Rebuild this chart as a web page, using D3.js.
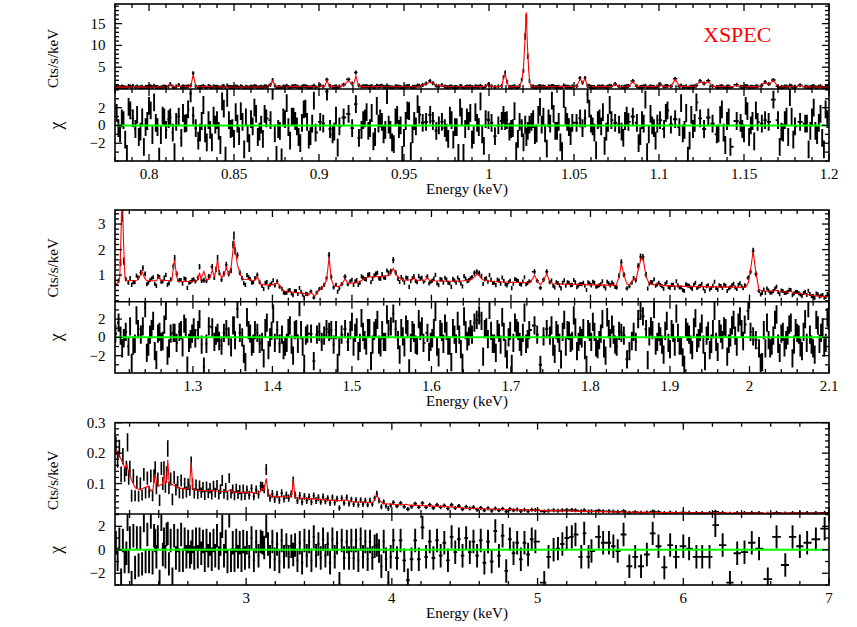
<!DOCTYPE html>
<html><head><meta charset="utf-8">
<script src="https://cdn.jsdelivr.net/npm/d3@7"></script>
<style>
body{margin:0;background:#fff}
svg{display:block}
text{font-family:"Liberation Serif","Times New Roman",serif;fill:#000}
</style>
</head><body>
<svg id="c" width="857" height="627"></svg>
<script>
// ---------------- DATA ----------------
// Tick labels
const p1XTicks = [0.8,0.85,0.9,0.95,1,1.05,1.1,1.15,1.2];
const p1YTicks = [5,10,15];
const p2XTicks = [1.3,1.4,1.5,1.6,1.7,1.8,1.9,2,2.1];
const p2YTicks = [1,2,3];
const p3XTicks = [3,4,5,6,7];
const p3YTicks = [0.1,0.2,0.3];
const chiTicks = [-2,0,2];
const xLabel = "Energy (keV)", yLabel = "Cts/s/keV", rLabel = "\u03c7", tag = "XSPEC";

// Model curves (red): [energy keV, Cts/s/keV]
const p1Model = [[0.780,0.42],[0.788,0.44],[0.7905,0.62],[0.793,0.44],[0.805,0.46],[0.811,0.5],[0.8125,1.05],[0.814,0.52],[0.816,0.5],[0.8175,0.85],[0.819,0.5],[0.8245,0.55],[0.826,3.3],[0.8275,0.6],[0.832,0.48],[0.835,0.62],[0.837,0.46],[0.855,0.45],[0.870,0.5],[0.8715,0.9],[0.8727,1.9],[0.874,0.9],[0.8755,0.5],[0.884,0.5],[0.886,0.65],[0.888,0.5],[0.899,0.52],[0.9007,0.8],[0.902,0.55],[0.9035,0.7],[0.9047,2.0],[0.906,0.7],[0.9075,0.55],[0.913,0.6],[0.9155,1.2],[0.9174,1.9],[0.919,1.2],[0.9205,1.3],[0.9217,3.0],[0.923,1.0],[0.925,0.55],[0.935,0.55],[0.937,0.7],[0.939,0.5],[0.958,0.55],[0.962,1.0],[0.9654,1.6],[0.968,1.0],[0.970,0.6],[0.9723,0.85],[0.9745,0.55],[0.985,0.5],[0.9975,0.6],[0.9997,1.0],[1.002,0.55],[1.0075,0.6],[1.0085,2.4],[1.0095,3.6],[1.0105,1.5],[1.012,0.5],[1.018,0.6],[1.0193,2.0],[1.0203,5.0],[1.0213,12.5],[1.0219,17.6],[1.0226,10.0],[1.0233,4.5],[1.0240,1.4],[1.025,0.5],[1.035,0.5],[1.0515,0.6],[1.0536,2.3],[1.055,1.5],[1.0565,2.3],[1.058,0.7],[1.060,0.5],[1.072,0.55],[1.0742,1.1],[1.0765,0.55],[1.082,0.6],[1.0846,1.7],[1.087,0.6],[1.098,0.55],[1.1006,1.0],[1.103,0.55],[1.107,0.6],[1.1095,2.2],[1.112,0.6],[1.121,0.6],[1.1242,1.7],[1.1265,1.3],[1.129,1.7],[1.1315,0.6],[1.143,0.5],[1.1457,0.9],[1.148,0.5],[1.159,0.55],[1.1624,1.5],[1.1645,1.1],[1.1673,1.9],[1.170,0.55],[1.180,0.5],[1.183,0.8],[1.186,0.48],[1.200,0.45]];

const p2Model = [[1.200,0.60],[1.205,0.62],[1.208,0.9],[1.2095,2.5],[1.211,4.6],[1.2125,2.5],[1.2145,0.9],[1.217,0.78],[1.230,0.8],[1.233,0.95],[1.236,1.15],[1.239,0.9],[1.242,0.78],[1.254,0.78],[1.257,0.92],[1.260,0.78],[1.2735,0.8],[1.2755,1.3],[1.277,1.6],[1.2785,1.2],[1.281,0.75],[1.300,0.75],[1.306,0.8],[1.3083,1.1],[1.310,0.85],[1.3138,1.15],[1.317,0.82],[1.321,0.85],[1.3243,1.2],[1.327,0.95],[1.329,1.2],[1.331,1.6],[1.333,1.15],[1.336,0.9],[1.339,1.0],[1.342,1.3],[1.345,1.05],[1.348,1.3],[1.3505,2.0],[1.3516,2.35],[1.353,2.0],[1.356,1.4],[1.360,1.0],[1.364,0.82],[1.370,0.85],[1.376,0.78],[1.3795,0.85],[1.381,0.95],[1.383,0.78],[1.386,0.62],[1.396,0.62],[1.400,0.62],[1.404,0.66],[1.406,0.7],[1.409,0.6],[1.412,0.45],[1.416,0.36],[1.425,0.33],[1.435,0.3],[1.441,0.28],[1.445,0.22],[1.4486,0.33],[1.4528,0.17],[1.456,0.3],[1.459,0.42],[1.465,0.6],[1.468,0.8],[1.4713,1.7],[1.474,0.85],[1.477,0.58],[1.483,0.55],[1.487,0.62],[1.4914,0.86],[1.495,0.68],[1.505,0.7],[1.510,0.75],[1.515,0.85],[1.520,0.93],[1.540,0.95],[1.548,1.0],[1.552,1.27],[1.556,1.0],[1.560,0.88],[1.566,0.8],[1.576,0.82],[1.578,0.9],[1.581,0.8],[1.592,0.8],[1.595,0.9],[1.598,0.78],[1.625,0.76],[1.640,0.78],[1.648,0.8],[1.653,0.9],[1.658,1.05],[1.6644,0.82],[1.675,0.75],[1.700,0.72],[1.724,0.70],[1.727,0.85],[1.7296,1.0],[1.733,0.78],[1.737,0.62],[1.741,0.8],[1.745,1.05],[1.749,0.72],[1.753,0.66],[1.790,0.63],[1.832,0.6],[1.836,0.9],[1.8388,1.45],[1.842,1.0],[1.846,0.65],[1.849,0.62],[1.8543,0.85],[1.857,0.8],[1.860,1.2],[1.864,1.7],[1.8665,1.6],[1.870,0.94],[1.874,0.66],[1.880,0.62],[1.884,0.66],[1.888,0.6],[1.920,0.56],[1.960,0.54],[1.995,0.52],[1.9985,0.7],[2.0013,1.2],[2.0046,1.94],[2.008,1.1],[2.012,0.42],[2.020,0.38],[2.030,0.37],[2.033,0.42],[2.036,0.36],[2.048,0.33],[2.052,0.37],[2.056,0.3],[2.070,0.25],[2.080,0.2],[2.090,0.17],[2.100,0.15]];

const p3Model = [[2.100,0.212],[2.125,0.195],[2.150,0.172],[2.170,0.15],[2.182,0.162],[2.192,0.14],[2.215,0.11],[2.239,0.086],[2.273,0.079],[2.300,0.086],[2.331,0.092],[2.345,0.076],[2.360,0.08],[2.376,0.132],[2.390,0.09],[2.410,0.095],[2.425,0.098],[2.436,0.132],[2.446,0.1],[2.454,0.105],[2.462,0.178],[2.472,0.1],[2.500,0.095],[2.540,0.085],[2.580,0.082],[2.610,0.086],[2.623,0.170],[2.634,0.082],[2.660,0.078],[2.750,0.076],[2.780,0.079],[2.800,0.075],[2.870,0.074],[2.891,0.08],[2.910,0.072],[3.000,0.071],[3.074,0.069],[3.095,0.072],[3.108,0.085],[3.122,0.078],[3.138,0.117],[3.152,0.064],[3.170,0.058],[3.300,0.056],[3.314,0.065],[3.323,0.115],[3.335,0.058],[3.350,0.053],[3.500,0.048],[3.640,0.044],[3.691,0.047],[3.710,0.041],[3.870,0.038],[3.885,0.05],[3.897,0.062],[3.915,0.045],[3.940,0.034],[4.000,0.032],[4.080,0.03],[4.100,0.032],[4.120,0.029],[4.350,0.025],[4.520,0.019],[4.770,0.015],[5.000,0.012],[5.500,0.007],[6.000,0.004],[6.500,0.003],[7.000,0.002]];

// Data bins: [energy keV, Cts/s/keV, 1-sigma error, residual chi]
const p1Bins = [
[0.781,0.52,0.12,1.4],[0.783,0.38,0.11,-0.9],[0.785,0.47,0.12,0.6],[0.787,0.30,0.11,-3.2],[0.789,0.55,0.12,1.7],[0.7905,0.66,0.13,0.8],[0.792,0.41,0.12,-0.4],[0.794,0.36,0.11,-1.3],[0.796,0.50,0.12,0.9],[0.798,0.44,0.12,-0.2],
[0.800,0.58,0.12,2.2],[0.802,0.39,0.11,-1.1],[0.804,0.45,0.12,0.3],[0.806,0.28,0.11,-3.5],[0.808,0.52,0.12,1.1],[0.810,0.47,0.12,-0.5],[0.8115,0.60,0.13,0.7],[0.8125,1.12,0.18,0.9],[0.814,0.49,0.12,-0.8],[0.816,0.55,0.12,0.4],
[0.8175,0.92,0.16,1.0],[0.819,0.42,0.12,-1.4],[0.821,0.50,0.12,0.2],[0.823,0.61,0.13,1.8],[0.8245,0.78,0.14,3.6],[0.826,3.60,0.40,1.1],[0.8275,0.62,0.13,-0.3],[0.829,0.43,0.12,-1.7],[0.831,0.52,0.12,0.5],[0.833,0.40,0.11,-0.9],
[0.835,0.66,0.13,0.6],[0.837,0.35,0.11,-1.9],[0.839,0.49,0.12,0.1],[0.841,0.41,0.12,-0.6],[0.843,0.56,0.12,2.7],[0.845,0.30,0.11,-3.4],[0.847,0.50,0.12,0.6],[0.849,0.44,0.12,-0.3],[0.851,0.58,0.13,1.5],[0.853,0.37,0.11,-1.2],
[0.855,0.48,0.12,0.4],[0.857,0.53,0.12,0.9],[0.859,0.35,0.11,-2.0],[0.861,0.47,0.12,-0.1],[0.863,0.56,0.12,1.3],[0.865,0.42,0.12,-0.7],[0.867,0.39,0.11,-1.5],[0.869,0.55,0.12,0.8],[0.8715,1.00,0.17,0.6],[0.8727,2.05,0.28,3.9],
[0.874,0.80,0.15,-0.9],[0.876,0.47,0.12,-0.4],[0.878,0.30,0.11,-3.6],[0.880,0.52,0.12,0.7],[0.882,0.46,0.12,-0.2],[0.884,0.58,0.13,1.0],[0.886,0.70,0.13,0.5],[0.888,0.41,0.12,-1.3],[0.890,0.51,0.12,0.3],[0.892,0.63,0.13,1.9],
[0.894,0.38,0.11,-1.6],[0.896,0.50,0.12,0.2],[0.898,0.44,0.12,-0.8],[0.9007,0.84,0.15,0.4],[0.9025,0.56,0.12,0.2],[0.9047,2.15,0.28,3.8],[0.9065,0.68,0.13,-0.4],[0.908,0.47,0.12,-1.0],[0.910,0.62,0.13,1.1],[0.912,0.55,0.12,-0.1],
[0.9145,1.00,0.16,0.9],[0.9174,2.20,0.28,1.3],[0.9195,1.25,0.19,-0.3],[0.9217,3.80,0.40,2.4],[0.9235,0.80,0.15,-1.4],[0.925,0.52,0.12,-0.5],[0.927,0.61,0.13,0.8],[0.929,0.49,0.12,-0.6],[0.931,0.66,0.13,1.4],[0.933,0.44,0.12,-1.3],
[0.935,0.58,0.13,0.2],[0.937,0.75,0.14,0.4],[0.939,0.47,0.12,-0.5],[0.941,0.53,0.12,0.1],[0.943,0.40,0.12,-1.9],[0.945,0.62,0.13,0.9],[0.947,0.51,0.12,-0.4],[0.949,0.30,0.11,-3.3],[0.951,0.58,0.13,0.5],[0.953,0.67,0.13,1.6],
[0.955,0.45,0.12,-1.0],[0.957,0.54,0.12,-0.1],[0.959,0.72,0.14,1.2],[0.961,0.90,0.15,0.3],[0.963,1.25,0.19,0.4],[0.9654,1.85,0.24,1.2],[0.967,1.30,0.19,0.5],[0.969,0.72,0.14,-0.6],[0.9705,0.61,0.13,0.0],[0.9723,0.92,0.16,0.4],
[0.974,0.55,0.12,-0.3],[0.976,0.42,0.12,-1.5],[0.978,0.57,0.13,0.6],[0.980,0.48,0.12,-0.2],[0.982,0.30,0.11,-3.1],[0.984,0.59,0.13,1.0],[0.986,0.46,0.12,-0.4],[0.988,0.54,0.12,0.5],[0.990,0.40,0.12,-1.6],[0.992,0.63,0.13,1.5],
[0.994,0.51,0.12,-0.2],[0.996,0.44,0.12,-1.0],[0.998,0.69,0.13,0.7],[0.9997,1.10,0.17,0.6],[1.0015,0.62,0.13,0.3],[1.0035,0.48,0.12,-1.2],[1.0055,0.57,0.13,0.0],[1.0075,0.66,0.13,0.5],[1.0085,2.70,0.32,1.2],[1.0095,3.80,0.40,0.5],
[1.0105,1.70,0.24,0.6],[1.012,0.47,0.12,-0.7],[1.014,0.53,0.12,-0.3],[1.016,0.34,0.11,-2.9],[1.018,0.66,0.13,0.4],[1.0193,2.10,0.27,-0.3],[1.0203,4.20,0.45,-1.9],[1.0213,12.1,0.80,0.1],[1.0220,16.3,0.90,-1.3],[1.0228,7.50,0.60,-0.6],
[1.0238,1.85,0.25,0.1],[1.025,0.56,0.12,0.4],[1.027,0.42,0.12,-1.1],[1.029,0.60,0.13,1.2],[1.031,0.51,0.12,0.1],[1.033,0.44,0.12,-0.9],[1.035,0.57,0.13,0.8],[1.037,0.66,0.13,2.8],[1.039,0.45,0.12,-0.6],[1.041,0.53,0.12,0.4],
[1.043,0.36,0.11,-2.9],[1.045,0.60,0.13,1.1],[1.047,0.49,0.12,-0.2],[1.049,0.55,0.12,0.3],[1.0515,0.62,0.13,0.3],[1.0536,2.50,0.30,0.8],[1.055,1.45,0.21,-0.3],[1.0565,2.50,0.30,0.8],[1.058,0.75,0.14,3.5],[1.060,0.53,0.12,0.2],
[1.062,0.44,0.12,-0.8],[1.064,0.58,0.13,0.6],[1.066,0.50,0.12,-0.1],[1.068,0.37,0.11,-2.3],[1.070,0.55,0.12,0.3],[1.072,0.63,0.13,0.6],[1.0742,1.15,0.18,0.3],[1.0765,0.57,0.13,0.1],[1.078,0.48,0.12,-0.7],[1.080,0.60,0.13,0.5],
[1.082,0.66,0.13,0.4],[1.0846,1.85,0.24,1.0],[1.087,0.64,0.13,0.3],[1.089,0.45,0.12,-1.2],[1.091,0.56,0.12,0.2],[1.093,0.36,0.12,-3.0],[1.095,0.62,0.13,1.3],[1.097,0.50,0.12,-0.3],[1.099,0.58,0.13,0.2],[1.1006,1.08,0.17,0.6],
[1.103,0.52,0.12,-0.4],[1.105,0.67,0.13,1.7],[1.107,0.61,0.13,0.1],[1.1095,2.35,0.29,0.7],[1.112,0.58,0.13,-0.2],[1.114,0.46,0.12,-0.9],[1.116,0.63,0.13,1.4],[1.118,0.39,0.11,-1.7],[1.120,0.54,0.12,-0.4],[1.122,0.80,0.14,2.6],
[1.1242,1.85,0.24,0.8],[1.1265,1.25,0.19,-0.4],[1.129,1.90,0.25,0.9],[1.1315,0.63,0.13,0.2],[1.134,0.47,0.12,-1.0],[1.136,0.59,0.13,1.2],[1.138,0.42,0.12,-0.8],[1.140,0.55,0.12,0.5],[1.142,0.33,0.11,-2.4],[1.1457,0.96,0.16,0.5],
[1.148,0.52,0.12,0.3],[1.150,0.44,0.12,-0.9],[1.152,0.61,0.13,1.6],[1.154,0.50,0.12,0.0],[1.156,0.38,0.11,-1.8],[1.158,0.57,0.13,0.4],[1.1605,0.85,0.15,0.2],[1.1624,1.60,0.22,0.6],[1.1645,1.15,0.18,0.4],[1.1673,2.05,0.27,2.9],
[1.170,0.62,0.13,0.6],[1.172,0.45,0.12,-0.7],[1.174,0.56,0.12,0.6],[1.176,0.40,0.12,-1.3],[1.178,0.61,0.13,1.0],[1.180,0.49,0.12,-0.1],[1.183,0.86,0.15,0.4],[1.186,0.51,0.12,0.2],[1.188,0.33,0.11,-2.7],[1.190,0.55,0.12,0.9],
[1.192,0.43,0.12,-0.6],[1.194,0.49,0.12,0.3],[1.196,0.36,0.11,-1.4],[1.198,0.53,0.12,1.8]];

// further panel-1 bins lying between the ones above
const p1BinsB = [
[0.782,0.45,0.12,-0.3],[0.784,0.56,0.12,0.8],[0.786,0.32,0.11,-1.6],[0.788,0.69,0.13,2.1],[0.793,0.58,0.12,1.2],[0.795,0.41,0.12,-0.7],[0.797,0.24,0.11,-2.4],[0.799,0.53,0.12,0.5],[0.801,0.65,0.13,1.7],[0.803,0.74,0.13,2.6],
[0.805,0.46,0.12,-0.2],[0.807,0.37,0.11,-1.1],[0.809,0.57,0.12,0.9],[0.815,0.20,0.11,-3.0],[0.820,0.64,0.13,1.4],[0.822,0.53,0.12,0.3],[0.830,0.40,0.12,-0.8],[0.832,0.71,0.13,2.3],[0.834,0.31,0.11,-1.9],[0.836,0.50,0.12,-0.5],
[0.838,0.59,0.12,1.1],[0.840,0.54,0.12,0.6],[0.842,0.26,0.11,-2.2],[0.844,0.67,0.13,1.9],[0.846,0.79,0.13,3.1],[0.848,0.44,0.12,-0.4],[0.850,0.33,0.11,-1.5],[0.852,0.50,0.12,0.2],[0.854,0.64,0.13,1.6],[0.856,0.21,0.11,-2.7],
[0.858,0.39,0.12,-0.9],[0.860,0.55,0.12,0.7],[0.862,0.68,0.13,2.0],[0.864,0.35,0.11,-1.3],[0.866,0.49,0.12,0.1],[0.868,0.61,0.13,1.3],[0.875,0.15,0.10,-3.3],[0.877,0.42,0.12,-0.6],[0.879,0.57,0.12,0.9],[0.881,0.73,0.13,2.5],
[0.883,0.31,0.11,-1.7],[0.885,0.62,0.13,1.0],[0.887,0.59,0.13,-0.1],[0.889,0.28,0.11,-2.0],[0.891,0.66,0.13,1.8],[0.893,0.52,0.12,0.4],[0.895,0.36,0.11,-1.2],[0.897,0.76,0.13,2.8],[0.909,0.50,0.12,-0.7],[0.911,0.33,0.11,-2.5],
[0.926,0.61,0.13,0.6],[0.928,0.70,0.13,1.5],[0.930,0.52,0.12,-0.3],[0.932,0.37,0.11,-1.8],[0.934,0.77,0.13,2.2],[0.936,0.66,0.13,0.8],[0.938,0.50,0.12,-1.0],[0.940,0.82,0.13,3.4],[0.942,0.43,0.12,-0.5],[0.944,0.27,0.11,-2.1],
[0.946,0.60,0.13,1.2],[0.948,0.48,0.12,0.0],[0.950,0.34,0.11,-1.4],[0.952,0.65,0.13,1.7],[0.954,0.19,0.10,-2.9],[0.956,0.53,0.12,0.5],[0.958,0.79,0.14,2.4],[0.975,0.45,0.12,-0.8],[0.977,0.59,0.12,1.1],[0.979,0.32,0.11,-1.6],
[0.981,0.46,0.12,-0.2],[0.983,0.68,0.13,2.0],[0.985,0.17,0.10,-3.1],[0.987,0.57,0.12,0.9],[0.989,0.62,0.13,1.4],[0.991,0.37,0.11,-1.1],[0.993,0.51,0.12,0.3],[0.995,0.75,0.13,2.7],[0.997,0.25,0.11,-2.3],[1.013,0.44,0.12,-0.4],
[1.015,0.64,0.13,1.6],[1.017,0.33,0.11,-1.5],[1.026,0.55,0.12,0.7],[1.028,0.39,0.12,-0.9],[1.030,0.69,0.13,2.1],[1.032,0.58,0.12,1.0],[1.034,0.22,0.11,-2.6],[1.036,0.50,0.12,0.2],[1.038,0.61,0.13,1.3],[1.040,0.42,0.12,-0.6],
[1.042,0.29,0.11,-1.9],[1.044,0.78,0.13,3.0],[1.046,0.52,0.12,0.4],[1.048,0.36,0.11,-1.2],[1.059,0.70,0.13,1.9],[1.061,0.48,0.12,-0.1],[1.063,0.20,0.11,-2.8],[1.065,0.56,0.12,0.8],[1.067,0.63,0.13,1.5],[1.069,0.41,0.12,-0.7],
[1.071,0.74,0.13,2.3],[1.079,0.41,0.12,-1.4],[1.081,0.65,0.13,1.1],[1.088,0.28,0.11,-2.0],[1.090,0.54,0.12,0.6],[1.092,0.77,0.13,2.9],[1.094,0.38,0.12,-1.0],[1.096,0.48,0.12,0.0],[1.098,0.31,0.11,-1.7],[1.104,0.69,0.13,1.4],
[1.113,0.78,0.13,2.5],[1.115,0.43,0.12,-0.5],[1.117,0.14,0.10,-3.4],[1.119,0.60,0.12,1.2],[1.121,0.63,0.13,0.3],[1.135,0.39,0.12,-0.9],[1.137,0.66,0.13,1.8],[1.139,0.26,0.11,-2.2],[1.141,0.57,0.12,0.9],[1.149,0.44,0.12,-0.4],
[1.151,0.70,0.13,2.2],[1.153,0.35,0.11,-1.3],[1.155,0.53,0.12,0.5],[1.157,0.65,0.13,1.7],[1.171,0.24,0.11,-2.4],[1.173,0.40,0.12,-0.8],[1.175,0.58,0.12,1.0],[1.177,0.80,0.13,3.2],[1.179,0.32,0.11,-1.6],[1.187,0.49,0.12,0.2],
[1.189,0.41,0.12,-0.6],[1.191,0.68,0.13,2.0],[1.193,0.37,0.11,-1.1],[1.195,0.61,0.13,1.3],[1.197,0.21,0.10,-2.7],[1.199,0.55,0.12,0.7]];

const p2Bins = [
[1.2025,0.64,0.08,0.4],[1.2065,0.78,0.09,1.6],[1.209,1.50,0.14,0.2],[1.211,3.30,0.22,-1.2],[1.213,1.55,0.14,-0.1],[1.2155,0.85,0.09,0.6],[1.219,0.70,0.08,-1.0],[1.223,0.62,0.08,-2.8],[1.227,0.72,0.08,-0.7],[1.231,0.90,0.09,0.9],
[1.2345,1.10,0.10,0.3],[1.237,1.28,0.11,1.2],[1.240,1.05,0.09,3.2],[1.244,0.70,0.08,-1.0],[1.248,0.86,0.09,0.9],[1.252,0.66,0.08,-1.5],[1.256,0.95,0.09,0.4],[1.260,0.74,0.08,-0.5],[1.264,0.90,0.09,1.4],[1.268,0.62,0.08,-2.0],
[1.272,0.83,0.09,0.4],[1.2755,1.35,0.11,0.5],[1.277,1.66,0.13,0.5],[1.2795,1.05,0.10,-0.6],[1.283,0.80,0.09,0.6],[1.287,0.66,0.08,-1.1],[1.291,0.84,0.09,1.1],[1.295,0.70,0.08,-0.6],[1.299,0.80,0.09,0.4],[1.303,0.75,0.08,-0.1],
[1.3065,0.90,0.09,0.8],[1.3083,1.33,0.11,2.0],[1.311,0.78,0.09,-0.8],[1.3138,0.80,0.10,-3.2],[1.317,0.76,0.08,-0.7],[1.320,0.95,0.09,1.2],[1.3243,1.33,0.11,1.1],[1.327,0.90,0.09,-0.5],[1.329,1.22,0.11,0.2],[1.331,1.66,0.13,0.5],
[1.333,1.10,0.10,-0.4],[1.336,0.82,0.09,-0.9],[1.339,1.05,0.10,0.5],[1.342,1.40,0.12,0.9],[1.345,1.05,0.10,0.1],[1.348,1.18,0.11,-1.1],[1.3505,2.20,0.15,1.3],[1.3516,2.55,0.16,1.3],[1.353,1.95,0.14,-0.3],[1.356,1.78,0.12,3.1],
[1.359,1.10,0.10,0.5],[1.362,0.88,0.09,0.0],[1.366,0.62,0.08,-2.7],[1.370,0.92,0.09,0.8],[1.374,0.70,0.08,-1.0],[1.378,0.88,0.09,0.8],[1.381,1.00,0.10,0.5],[1.384,0.72,0.08,-0.7],[1.387,0.58,0.08,-0.5],[1.391,0.70,0.08,1.0],
[1.395,0.52,0.07,-1.4],[1.399,0.68,0.08,0.7],[1.403,0.60,0.08,-0.6],[1.406,0.76,0.08,0.8],[1.409,0.55,0.07,-0.7],[1.412,0.47,0.07,0.3],[1.416,0.30,0.06,-1.0],[1.420,0.40,0.07,1.0],[1.424,0.28,0.06,-0.8],[1.428,0.38,0.06,0.8],
[1.432,0.26,0.06,-0.7],[1.436,0.35,0.06,0.8],[1.440,0.12,0.05,-2.9],[1.444,0.25,0.06,0.4],[1.4486,0.36,0.06,0.4],[1.452,0.12,0.05,-2.6],[1.456,0.32,0.06,0.3],[1.459,0.46,0.07,0.6],[1.462,0.50,0.07,-0.5],[1.465,0.62,0.08,0.2],
[1.468,0.88,0.09,0.9],[1.4713,1.78,0.13,0.6],[1.474,0.93,0.09,0.8],[1.477,0.52,0.07,-0.8],[1.480,0.62,0.08,0.8],[1.484,0.48,0.07,-1.0],[1.487,0.64,0.08,0.3],[1.4914,0.94,0.09,0.9],[1.495,0.64,0.08,-0.5],[1.498,0.76,0.08,0.8],
[1.502,0.62,0.08,-1.0],[1.506,0.80,0.09,1.1],[1.510,0.70,0.08,-0.6],[1.514,0.90,0.09,0.6],[1.518,0.84,0.09,-0.9],[1.522,1.02,0.10,1.0],[1.526,0.86,0.09,-0.8],[1.530,1.04,0.10,1.0],[1.534,0.88,0.09,-0.8],[1.538,1.02,0.10,0.8],
[1.542,0.90,0.09,-0.5],[1.546,1.08,0.10,0.9],[1.549,1.15,0.10,1.2],[1.552,1.59,0.12,2.6],[1.555,1.10,0.10,0.9],[1.558,0.86,0.09,-0.3],[1.562,0.92,0.09,1.0],[1.566,0.70,0.08,-1.1],[1.570,0.88,0.09,0.9],[1.574,0.76,0.08,-0.6],
[1.578,0.95,0.09,0.5],[1.582,0.72,0.08,-0.9],[1.586,0.86,0.09,0.7],[1.590,0.74,0.08,-0.6],[1.595,0.94,0.09,0.5],[1.599,0.74,0.08,-0.5],[1.603,0.86,0.09,1.0],[1.607,0.68,0.08,-1.0],[1.611,0.84,0.09,0.9],[1.615,0.70,0.08,-0.7],
[1.619,0.82,0.09,0.7],[1.623,0.68,0.08,-0.9],[1.627,0.85,0.09,1.0],[1.631,0.70,0.08,-0.7],[1.635,0.80,0.09,0.3],[1.639,0.56,0.08,-2.8],[1.643,0.86,0.09,0.8],[1.647,0.80,0.09,0.1],[1.651,0.92,0.09,0.3],[1.654,1.08,0.10,1.6],
[1.657,1.13,0.10,1.9],[1.660,1.08,0.10,2.4],[1.663,0.96,0.09,1.8],[1.667,0.84,0.09,0.9],[1.671,0.74,0.08,-0.2],[1.675,0.82,0.09,0.7],[1.679,0.70,0.08,-0.7],[1.683,0.82,0.09,0.9],[1.687,0.66,0.08,-0.8],[1.691,0.78,0.08,0.6],
[1.695,0.60,0.08,-2.4],[1.699,0.78,0.08,0.7],[1.703,0.66,0.08,-0.6],[1.707,0.80,0.09,1.0],[1.711,0.66,0.08,-0.5],[1.715,0.75,0.08,0.5],[1.719,0.64,0.08,-0.7],[1.723,0.76,0.08,0.8],[1.7296,1.13,0.10,1.3],[1.733,0.78,0.08,0.3],
[1.737,0.50,0.07,-3.0],[1.741,0.82,0.09,0.1],[1.745,1.13,0.10,0.9],[1.749,0.72,0.08,0.2],[1.753,0.58,0.07,-1.0],[1.757,0.72,0.08,0.8],[1.761,0.60,0.08,-0.6],[1.765,0.70,0.08,0.6],[1.769,0.58,0.07,-1.0],[1.773,0.70,0.08,0.7],
[1.777,0.62,0.08,-0.4],[1.781,0.72,0.08,1.1],[1.785,0.60,0.08,-0.5],[1.789,0.64,0.08,-0.1],[1.793,0.58,0.07,-1.4],[1.797,0.72,0.08,0.9],[1.801,0.60,0.08,-0.5],[1.805,0.70,0.08,0.6],[1.809,0.56,0.07,-1.3],[1.813,0.64,0.08,0.4],
[1.817,0.56,0.07,-1.2],[1.821,0.74,0.08,2.2],[1.825,0.60,0.08,-0.1],[1.829,0.64,0.08,0.3],[1.833,0.52,0.08,-1.0],[1.836,0.98,0.09,0.7],[1.8388,1.50,0.12,0.5],[1.842,1.02,0.10,0.2],[1.846,0.48,0.08,-2.4],[1.849,0.56,0.07,-1.5],
[1.852,0.70,0.08,-0.4],[1.8543,0.88,0.09,0.6],[1.857,0.80,0.09,-0.5],[1.860,1.36,0.11,2.0],[1.863,1.72,0.13,2.9],[1.866,1.70,0.13,2.3],[1.870,1.02,0.10,0.9],[1.874,0.66,0.08,0.1],[1.878,0.72,0.08,0.8],[1.882,0.58,0.07,-0.9],
[1.886,0.70,0.08,0.6],[1.890,0.56,0.07,-0.8],[1.894,0.66,0.08,0.7],[1.898,0.54,0.07,-0.6],[1.902,0.62,0.08,0.9],[1.906,0.50,0.07,-1.0],[1.910,0.60,0.08,0.5],[1.914,0.52,0.07,-0.9],[1.918,0.38,0.07,-3.0],[1.922,0.60,0.08,0.6],
[1.926,0.52,0.07,-0.8],[1.930,0.62,0.08,1.1],[1.934,0.50,0.07,-0.6],[1.938,0.58,0.07,0.6],[1.942,0.48,0.07,-0.8],[1.946,0.56,0.07,0.2],[1.950,0.44,0.07,-1.4],[1.954,0.58,0.07,0.9],[1.958,0.50,0.07,-0.5],[1.962,0.60,0.08,0.9],
[1.966,0.50,0.07,-0.3],[1.970,0.58,0.07,1.0],[1.974,0.48,0.07,-0.7],[1.978,0.60,0.08,1.3],[1.982,0.52,0.07,0.2],[1.986,0.62,0.08,1.6],[1.990,0.56,0.07,0.9],[1.994,0.60,0.08,1.4],[1.9985,0.90,0.09,2.9],[2.0013,1.13,0.10,0.6],
[2.0046,1.94,0.13,0.1],[2.008,1.05,0.10,-0.3],[2.012,0.38,0.06,-1.2],[2.016,0.30,0.06,-2.7],[2.020,0.30,0.06,-1.2],[2.024,0.40,0.06,-0.3],[2.028,0.32,0.06,-0.9],[2.032,0.48,0.07,1.9],[2.036,0.34,0.06,-0.7],[2.040,0.40,0.06,0.4],
[2.044,0.30,0.06,-1.1],[2.048,0.34,0.06,0.2],[2.052,0.42,0.06,1.6],[2.056,0.28,0.06,-0.8],[2.060,0.34,0.06,0.5],[2.064,0.24,0.05,-1.1],[2.068,0.30,0.06,0.6],[2.072,0.22,0.05,-0.6],[2.076,0.26,0.05,0.3],[2.080,0.18,0.05,-1.2],
[2.084,0.28,0.05,1.9],[2.088,0.16,0.05,-0.7],[2.092,0.22,0.05,1.1],[2.096,0.14,0.04,-0.6],[2.0995,0.22,0.05,1.8]];

// further panel-2 bins lying between the ones above
const p2BinsB = [
[1.221,0.89,0.08,1.2],[1.225,0.72,0.08,-0.9],[1.229,0.98,0.08,2.4],[1.242,0.64,0.08,-1.7],[1.246,0.80,0.08,0.3],[1.250,0.92,0.08,1.8],[1.254,0.58,0.08,-2.5],[1.258,0.93,0.08,0.6],[1.262,0.75,0.08,-0.4],[1.266,1.01,0.08,2.9],
[1.270,0.68,0.08,-1.2],[1.285,0.81,0.08,0.8],[1.289,0.87,0.08,1.5],[1.293,0.50,0.08,-3.1],[1.297,0.73,0.08,-0.2],[1.301,0.84,0.08,1.1],[1.364,0.68,0.08,-1.8],[1.368,1.00,0.08,2.2],[1.372,0.85,0.08,0.4],[1.376,0.72,0.08,-0.7],
[1.389,0.46,0.07,-2.3],[1.393,0.73,0.07,1.6],[1.397,0.62,0.07,0.0],[1.401,0.80,0.07,2.6],[1.414,0.32,0.06,-1.4],[1.418,0.31,0.06,-0.6],[1.422,0.42,0.06,1.3],[1.426,0.21,0.06,-2.0],[1.430,0.37,0.06,0.9],[1.434,0.50,0.06,3.3],
[1.438,0.23,0.06,-1.0],[1.442,0.27,0.06,0.2],[1.482,0.35,0.07,-2.8],[1.500,0.82,0.08,1.7],[1.504,0.76,0.08,0.5],[1.508,0.62,0.08,-1.5],[1.512,0.95,0.08,2.1],[1.516,0.85,0.08,-0.3],[1.520,1.01,0.08,1.0],[1.524,0.72,0.08,-2.6],
[1.528,0.99,0.08,0.7],[1.532,1.09,0.08,1.9],[1.536,0.85,0.08,-1.1],[1.540,0.91,0.08,-0.5],[1.544,1.18,0.08,2.5],[1.560,0.73,0.08,-1.9],[1.564,0.83,0.08,0.1],[1.568,0.91,0.08,1.4],[1.572,0.54,0.08,-3.4],[1.576,0.88,0.08,0.8],
[1.580,0.77,0.08,-0.8],[1.584,0.96,0.08,2.0],[1.588,0.90,0.08,1.2],[1.597,0.67,0.08,-1.6],[1.601,0.78,0.08,-0.1],[1.605,1.01,0.08,2.8],[1.609,0.61,0.08,-2.2],[1.613,0.83,0.08,0.6],[1.617,0.90,0.08,1.5],[1.621,0.70,0.08,-0.9],
[1.625,0.54,0.08,-2.7],[1.629,0.79,0.08,0.3],[1.633,0.91,0.08,1.8],[1.637,0.67,0.08,-1.3],[1.641,0.96,0.08,2.3],[1.645,0.76,0.08,-0.4],[1.649,0.88,0.08,0.9],[1.665,0.65,0.08,-2.1],[1.669,0.88,0.08,1.1],[1.673,1.00,0.08,3.0],
[1.677,0.69,0.08,-0.7],[1.681,0.61,0.08,-1.7],[1.685,0.78,0.08,0.5],[1.689,0.91,0.08,2.2],[1.693,0.64,0.08,-1.2],[1.697,0.72,0.08,0.0],[1.701,0.49,0.08,-2.9],[1.705,0.85,0.08,1.6],[1.709,0.77,0.08,0.7],[1.713,0.63,0.08,-1.0],
[1.717,0.92,0.08,2.7],[1.721,0.69,0.08,-0.2],[1.751,0.79,0.08,1.3],[1.755,0.52,0.08,-1.8],[1.759,0.69,0.08,0.4],[1.763,0.48,0.08,-2.4],[1.767,0.80,0.08,1.9],[1.771,0.72,0.08,0.8],[1.775,0.61,0.08,-0.6],[1.779,0.81,0.08,2.4],
[1.783,0.53,0.07,-1.5],[1.787,0.65,0.07,0.2],[1.791,0.70,0.07,1.0],[1.795,0.42,0.07,-3.0],[1.799,0.67,0.07,0.6],[1.803,0.74,0.07,1.7],[1.807,0.55,0.07,-1.1],[1.811,0.60,0.07,-0.3],[1.815,0.76,0.07,2.0],[1.819,0.48,0.07,-2.0],
[1.823,0.68,0.07,0.9],[1.827,0.71,0.07,1.4],[1.831,0.54,0.07,-0.8],[1.872,0.48,0.07,-2.5],[1.876,0.73,0.07,1.2],[1.880,0.84,0.07,3.1],[1.884,0.63,0.07,-0.5],[1.888,0.61,0.07,0.1],[1.892,0.47,0.07,-1.9],[1.896,0.72,0.07,1.8],
[1.900,0.50,0.07,-1.3],[1.904,0.62,0.07,0.5],[1.908,0.76,0.07,2.6],[1.912,0.52,0.07,-0.9],[1.916,0.42,0.07,-2.2],[1.920,0.64,0.07,1.1],[1.924,0.58,0.07,0.3],[1.928,0.46,0.07,-1.4],[1.932,0.70,0.07,2.1],[1.936,0.55,0.07,-0.1],
[1.940,0.66,0.07,1.5],[1.944,0.37,0.07,-2.6],[1.948,0.60,0.07,0.7],[1.952,0.50,0.07,-0.7],[1.956,0.74,0.07,2.9],[1.960,0.43,0.07,-1.6],[1.964,0.57,0.07,0.4],[1.968,0.62,0.07,1.2],[1.972,0.38,0.07,-2.1],[1.976,0.53,0.07,0.0],
[1.980,0.66,0.07,1.9],[1.984,0.46,0.07,-1.0],[1.988,0.68,0.07,2.3],[1.992,0.49,0.07,-0.4],[2.014,0.24,0.06,-2.8],[2.018,0.44,0.06,0.8],[2.022,0.48,0.06,1.6],[2.026,0.31,0.06,-1.2],[2.030,0.38,0.06,0.2],[2.034,0.55,0.06,2.5],
[2.038,0.25,0.06,-1.7],[2.042,0.38,0.06,0.6],[2.046,0.31,0.06,-0.3],[2.050,0.43,0.06,1.4],[2.054,0.21,0.06,-2.3],[2.058,0.35,0.06,1.0],[2.062,0.29,0.06,0.3],[2.066,0.18,0.05,-1.5],[2.070,0.35,0.05,2.0],[2.074,0.39,0.05,3.2],
[2.078,0.17,0.05,-0.8],[2.082,0.10,0.05,-1.9],[2.086,0.25,0.05,1.3],[2.090,0.19,0.05,0.5],[2.094,0.11,0.05,-1.1],[2.098,0.26,0.05,2.2]];

const p3Bins = [
[2.106,0.225,0.030,0.6],[2.118,0.180,0.028,-0.8],[2.130,0.215,0.029,0.9],[2.142,0.130,0.026,-2.6],[2.154,0.190,0.027,0.8],[2.166,0.130,0.024,-1.0],[2.178,0.150,0.025,-0.3],[2.186,0.235,0.030,2.6],[2.194,0.120,0.024,-1.0],[2.202,0.150,0.025,1.0],
[2.214,0.060,0.020,-2.8],[2.226,0.125,0.023,1.2],[2.238,0.060,0.018,-1.5],[2.250,0.105,0.021,1.0],[2.262,0.058,0.018,-1.3],[2.274,0.100,0.021,1.0],[2.286,0.062,0.018,-1.2],[2.298,0.130,0.021,2.5],[2.310,0.070,0.019,-1.0],[2.322,0.118,0.022,1.3],
[2.334,0.072,0.019,-1.0],[2.346,0.125,0.021,2.8],[2.358,0.060,0.018,-1.1],[2.368,0.125,0.022,1.2],[2.376,0.150,0.023,0.8],[2.384,0.085,0.020,-0.6],[2.394,0.115,0.021,1.1],[2.406,0.045,0.019,-2.7],[2.418,0.150,0.022,2.6],[2.428,0.100,0.021,-0.4],
[2.436,0.150,0.023,0.9],[2.446,0.090,0.020,-0.6],[2.454,0.135,0.022,1.3],[2.462,0.215,0.027,1.4],[2.470,0.085,0.020,-1.2],[2.482,0.115,0.021,0.8],[2.494,0.048,0.019,-2.5],[2.506,0.120,0.021,1.2],[2.518,0.080,0.019,-0.7],[2.530,0.105,0.020,0.8],
[2.542,0.070,0.018,-0.9],[2.554,0.110,0.020,1.3],[2.566,0.068,0.018,-0.9],[2.578,0.100,0.019,0.9],[2.590,0.072,0.018,-0.6],[2.602,0.098,0.019,0.7],[2.614,0.078,0.018,-0.6],[2.623,0.165,0.024,-0.2],[2.632,0.098,0.019,0.7],[2.644,0.068,0.017,-0.7],
[2.656,0.095,0.018,0.9],[2.668,0.066,0.017,-0.6],[2.680,0.092,0.018,0.9],[2.692,0.070,0.017,-0.3],[2.704,0.088,0.017,0.7],[2.716,0.062,0.016,-0.9],[2.728,0.090,0.017,0.8],[2.740,0.068,0.016,-0.5],[2.752,0.085,0.017,0.5],[2.764,0.064,0.016,-0.8],
[2.776,0.092,0.017,0.8],[2.788,0.070,0.016,-0.5],[2.800,0.095,0.017,1.2],[2.812,0.064,0.016,-0.7],[2.824,0.082,0.016,0.5],[2.836,0.110,0.018,2.0],[2.848,0.066,0.016,-0.5],[2.860,0.086,0.016,0.7],[2.872,0.060,0.015,-1.0],[2.884,0.118,0.016,2.9],
[2.896,0.066,0.015,-0.9],[2.908,0.082,0.015,0.6],[2.920,0.060,0.015,-0.9],[2.932,0.084,0.015,0.8],[2.944,0.064,0.015,-0.6],[2.956,0.080,0.015,0.6],[2.968,0.058,0.014,-0.9],[2.980,0.082,0.015,0.7],[2.992,0.060,0.014,-0.7],
[3.005,0.080,0.014,0.6],[3.021,0.062,0.014,-0.6],[3.037,0.084,0.014,1.0],[3.053,0.058,0.013,-0.9],[3.069,0.080,0.014,0.7],[3.085,0.064,0.013,-0.5],[3.100,0.092,0.015,0.7],[3.112,0.090,0.015,0.6],[3.124,0.082,0.014,0.2],[3.138,0.146,0.018,2.0],
[3.150,0.070,0.013,0.5],[3.164,0.052,0.012,-0.6],[3.180,0.066,0.013,0.7],[3.196,0.048,0.012,-0.8],[3.212,0.064,0.012,0.5],[3.228,0.046,0.012,-1.0],[3.244,0.068,0.013,0.8],[3.260,0.050,0.012,-0.6],[3.276,0.062,0.012,0.4],[3.292,0.052,0.012,-0.6],
[3.310,0.066,0.012,0.3],[3.323,0.108,0.015,-0.4],[3.336,0.062,0.012,0.4],[3.352,0.044,0.011,-0.9],[3.368,0.060,0.012,0.6],[3.384,0.040,0.011,-1.1],[3.400,0.058,0.011,0.8],[3.416,0.044,0.011,-0.5],[3.432,0.056,0.011,0.7],[3.448,0.040,0.011,-0.9],
[3.464,0.060,0.011,1.1],[3.480,0.044,0.011,-0.5],[3.496,0.054,0.011,0.5],[3.512,0.040,0.010,-0.7],[3.528,0.056,0.011,0.9],[3.544,0.042,0.010,-0.5],[3.560,0.052,0.010,0.5],[3.576,0.036,0.010,-1.1],[3.592,0.054,0.010,0.9],[3.608,0.038,0.010,-0.6],
[3.624,0.050,0.010,0.6],[3.640,0.020,0.009,-2.9],[3.656,0.052,0.010,0.8],[3.672,0.036,0.009,-0.7],[3.691,0.054,0.010,0.7],[3.706,0.034,0.009,-0.7],[3.722,0.048,0.009,0.8],[3.738,0.032,0.009,-0.7],[3.754,0.046,0.009,0.8],[3.770,0.030,0.009,-0.9],
[3.786,0.046,0.009,0.9],[3.802,0.032,0.009,-0.6],[3.818,0.044,0.009,0.7],[3.834,0.030,0.008,-0.8],[3.850,0.044,0.009,0.7],[3.866,0.032,0.008,-0.7],[3.882,0.052,0.009,0.3],[3.897,0.066,0.010,0.4],[3.912,0.044,0.009,-0.1],[3.928,0.024,0.008,-1.4],
[3.944,0.040,0.008,0.7],[3.960,0.026,0.008,-0.8],[3.976,0.018,0.008,-2.8],[3.992,0.028,0.007,-0.6],
[4.010,0.038,0.007,0.8],[4.035,0.026,0.007,-0.7],[4.060,0.036,0.007,0.8],[4.085,0.024,0.007,-0.9],[4.110,0.016,0.007,-2.6],[4.135,0.024,0.006,-0.8],[4.160,0.034,0.006,0.8],[4.185,0.022,0.006,-0.8],[4.210,0.036,0.006,1.9],[4.235,0.022,0.006,-0.6],
[4.260,0.030,0.006,0.7],[4.285,0.020,0.006,-0.7],[4.310,0.030,0.006,0.8],[4.335,0.022,0.006,-0.5],[4.360,0.028,0.006,0.6],[4.385,0.018,0.005,-0.9],[4.410,0.030,0.006,1.1],[4.435,0.020,0.005,-0.2],[4.460,0.026,0.005,0.9],[4.485,0.016,0.005,-0.5],
[4.510,0.024,0.005,1.0],[4.535,0.018,0.005,-0.2],[4.560,0.022,0.005,0.7],[4.585,0.014,0.005,-0.5],[4.610,0.020,0.005,0.8],[4.635,0.012,0.004,-1.1],[4.660,0.019,0.004,0.7],[4.685,0.011,0.004,-1.0],[4.710,0.018,0.004,1.6],[4.735,0.012,0.004,-0.5],
[4.760,0.017,0.004,1.2],[4.785,0.008,0.004,-1.8],[4.810,0.016,0.004,0.9],[4.835,0.012,0.004,-0.3],[4.860,0.015,0.004,0.6],[4.885,0.010,0.004,-0.8],[4.910,0.014,0.004,0.6],[4.935,0.010,0.003,-0.4],[4.960,0.014,0.003,0.9],[4.985,0.013,0.003,0.7],
[5.046,0.008,0.003,-2.8],[5.075,0.011,0.003,-0.6],[5.110,0.012,0.003,0.0],[5.140,0.011,0.003,0.1],[5.170,0.012,0.003,0.5],[5.200,0.013,0.003,1.0],[5.235,0.013,0.003,1.1],[5.260,0.012,0.003,1.3],[5.300,0.009,0.003,-0.6],[5.320,0.012,0.003,1.4],
[5.350,0.008,0.003,-0.6],[5.370,0.009,0.003,-0.1],[5.420,0.011,0.003,1.1],[5.450,0.009,0.003,0.6],[5.490,0.009,0.003,0.6],[5.520,0.008,0.002,0.3],[5.550,0.007,0.002,-0.1],[5.590,0.009,0.002,1.3],[5.630,0.004,0.002,-1.4],[5.670,0.006,0.002,-0.6],
[5.710,0.004,0.002,-1.4],[5.750,0.005,0.002,-0.4],[5.790,0.008,0.002,1.4],[5.830,0.006,0.002,0.3],[5.870,0.003,0.002,-1.5],[5.910,0.005,0.002,0.4],[5.950,0.004,0.002,-0.6],[6.000,0.005,0.002,0.3],[6.040,0.004,0.002,0.1],[6.090,0.003,0.002,-0.6],
[6.130,0.003,0.002,-0.6],[6.180,0.003,0.002,-0.6],[6.220,0.007,0.002,2.1],[6.270,0.004,0.002,0.4],[6.320,0.001,0.001,-2.8],[6.370,0.003,0.001,-0.3],[6.420,0.003,0.001,-0.2],[6.470,0.004,0.001,0.6],[6.520,0.003,0.001,0.1],[6.580,0.001,0.001,-2.5],
[6.640,0.004,0.001,1.1],[6.700,0.002,0.001,-1.3],[6.750,0.003,0.001,1.1],[6.800,0.003,0.001,0.3],[6.850,0.003,0.001,0.6],[6.910,0.003,0.001,0.9],[6.970,0.004,0.001,1.8]];

// ---------------- DRAWING ----------------
const svg = d3.select("#c");
const defs = svg.append("defs");
const L = 115, R = 829;

const panels = [
  {top:4, mid:89, bot:161, xDom:[0.78,1.2], yDom:[0,19.5], rDom:[-4,4.1],
   model:p1Model, bins:p1Bins.concat(p1BinsB), xTicks:p1XTicks, xMinor:0.01, yTicks:p1YTicks, yMinor:1, rMinor:1},
  {top:210, mid:301.7, bot:373, xDom:[1.202,2.1], yDom:[-0.04,3.55], rDom:[-3.9,3.9],
   model:p2Model, bins:p2Bins.concat(p2BinsB), xTicks:p2XTicks, xMinor:0.02, yTicks:p2YTicks, yMinor:0.2, rMinor:1},
  {top:422.7, mid:514, bot:585, xDom:[2.1,7], yDom:[0,0.3], rDom:[-3,3.05],
   model:p3Model, bins:p3Bins, xTicks:p3XTicks, xMinor:0.2, yTicks:p3YTicks, yMinor:0.02, rMinor:1}
];

function minorTicks(dom, step, majors){
  const out = [];
  for (let k = Math.ceil(dom[0]/step - 1e-6); k*step <= dom[1] + 1e-9; k++){
    const v = +(k*step).toFixed(6);
    if (!majors.some(m => Math.abs(m - v) < step*1e-3)) out.push(v);
  }
  return out;
}
const fmt = v => v < 0 ? "\u2212" + (-v) : String(v);
const MAJ = 7, MIN = 4;

panels.forEach((p, i) => {
  const x = d3.scaleLinear().domain(p.xDom).range([L, R]);
  const y = d3.scaleLinear().domain(p.yDom).range([p.mid, p.top]);
  const r = d3.scaleLinear().domain(p.rDom).range([p.bot, p.mid]);
  const g = svg.append("g");

  defs.append("clipPath").attr("id","cs"+i).append("rect")
    .attr("x",L).attr("y",p.top).attr("width",R-L).attr("height",p.mid-p.top);
  defs.append("clipPath").attr("id","cr"+i).append("rect")
    .attr("x",L).attr("y",p.mid).attr("width",R-L).attr("height",p.bot-p.mid);

  const b = p.bins.slice().sort((a, c) => a[0] - c[0]);
  const edges = b.map((d,j) => {
    const prev = j>0 ? b[j-1][0] : null, next = j<b.length-1 ? b[j+1][0] : null;
    const lo = prev!==null ? (d[0]+prev)/2 : d[0]-(next-d[0])/2;
    const hi = next!==null ? (d[0]+next)/2 : d[0]+(d[0]-prev)/2;
    return [lo, hi];
  });

  // spectrum data crosses
  const sg = g.append("g").attr("clip-path","url(#cs"+i+")");
  sg.append("path")
    .attr("d", b.map((d,j) => {
      const yc = y(d[1]);
      let y1 = y(d[1]+d[2]), y0 = y(d[1]-d[2]);
      if (y0 - y1 < 4) { y1 = yc - 2; y0 = yc + 2; }
      return `M${x(edges[j][0])},${yc}H${x(edges[j][1])}M${x(d[0])},${y0}V${y1}`;
    }).join(""))
    .attr("fill","none").attr("stroke","#000").attr("stroke-width",1.6);
  // model
  sg.append("path").datum(p.model)
    .attr("d", d3.line().x(d=>x(d[0])).y(d=>y(d[1])))
    .attr("fill","none").attr("stroke","#ff0000").attr("stroke-width",1.1);

  // residuals
  const rg = g.append("g").attr("clip-path","url(#cr"+i+")");
  rg.append("path")
    .attr("d", b.map((d,j) => `M${x(edges[j][0])},${r(d[3])}H${x(edges[j][1])}M${x(d[0])},${r(d[3]-1)}V${r(d[3]+1)}`).join(""))
    .attr("fill","none").attr("stroke","#000").attr("stroke-width",1.9);
  rg.append("line").attr("x1",L).attr("x2",R).attr("y1",r(0)).attr("y2",r(0))
    .attr("stroke","#00ff00").attr("stroke-width",2);

  // frame
  g.append("rect").attr("x",L).attr("y",p.top).attr("width",R-L).attr("height",p.bot-p.top)
    .attr("fill","none").attr("stroke","#000").attr("stroke-width",1.6);
  g.append("line").attr("x1",L).attr("x2",R).attr("y1",p.mid).attr("y2",p.mid)
    .attr("stroke","#000").attr("stroke-width",1.6);

  // ticks
  const tk = g.append("g").attr("stroke","#000").attr("stroke-width",1.3);
  const xMin = minorTicks(p.xDom, p.xMinor, p.xTicks);
  const xMaj = p.xTicks.filter(v => v >= p.xDom[0] && v <= p.xDom[1]);
  const xEdges = [[p.top,1],[p.mid,-1],[p.mid,1],[p.bot,-1]];
  xEdges.forEach(([yy,dir]) => {
    xMaj.forEach(v => tk.append("line").attr("x1",x(v)).attr("x2",x(v)).attr("y1",yy).attr("y2",yy+dir*MAJ));
    xMin.forEach(v => tk.append("line").attr("x1",x(v)).attr("x2",x(v)).attr("y1",yy).attr("y2",yy+dir*MIN));
  });
  const yMin = minorTicks(p.yDom, p.yMinor, p.yTicks);
  const rMin = minorTicks(p.rDom, p.rMinor, chiTicks);
  [[L,1],[R,-1]].forEach(([xx,dir]) => {
    p.yTicks.forEach(v => tk.append("line").attr("x1",xx).attr("x2",xx+dir*MAJ).attr("y1",y(v)).attr("y2",y(v)));
    yMin.forEach(v => tk.append("line").attr("x1",xx).attr("x2",xx+dir*MIN).attr("y1",y(v)).attr("y2",y(v)));
    chiTicks.forEach(v => tk.append("line").attr("x1",xx).attr("x2",xx+dir*MAJ).attr("y1",r(v)).attr("y2",r(v)));
    rMin.forEach(v => tk.append("line").attr("x1",xx).attr("x2",xx+dir*MIN).attr("y1",r(v)).attr("y2",r(v)));
  });

  // tick labels
  xMaj.forEach(v => g.append("text").attr("x",x(v)).attr("y",p.bot+17.5)
    .attr("text-anchor","middle").attr("font-size",15).text(fmt(v)));
  p.yTicks.forEach(v => g.append("text").attr("x",105.5).attr("y",y(v)).attr("dy","0.33em")
    .attr("text-anchor","end").attr("font-size",15).text(fmt(v)));
  chiTicks.forEach(v => g.append("text").attr("x",105.5).attr("y",r(v)).attr("dy","0.33em")
    .attr("text-anchor","end").attr("font-size",15).text(fmt(v)));

  // axis labels
  g.append("text").attr("x",467).attr("y",p.bot+33).attr("text-anchor","middle")
    .attr("font-size",15).text(xLabel);
  g.append("text").attr("transform",`translate(58,${(p.top+p.mid)/2+12}) rotate(-90)`)
    .attr("text-anchor","middle").attr("font-size",15).text(yLabel);
  g.append("text").attr("transform",`translate(62,${r(0)}) rotate(-90)`)
    .attr("text-anchor","middle").attr("font-size",18).text(rLabel);
});

svg.append("text").attr("x",703).attr("y",42).attr("font-size",22)
  .style("fill","#ff0000").text(tag);
</script>
</body></html>
